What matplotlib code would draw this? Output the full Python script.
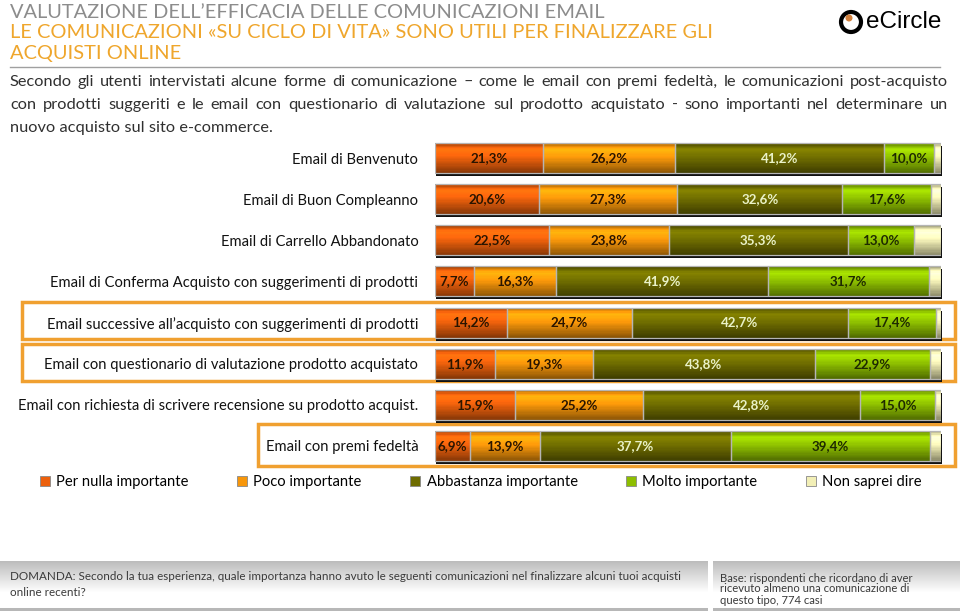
import numpy as np
import matplotlib.pyplot as plt
from matplotlib.patches import Rectangle, Circle
from matplotlib.colors import to_rgb

plt.rcParams['font.family'] = ['Lato', 'DejaVu Sans']

# --- data ---
categories = [
    'Email di Benvenuto',
    'Email di Buon Compleanno',
    'Email di Carrello Abbandonato',
    'Email di Conferma Acquisto con suggerimenti di prodotti',
    "Email successive all\u2019acquisto con suggerimenti di prodotti",
    'Email con questionario di valutazione prodotto acquistato',
    'Email con richiesta di scrivere recensione su prodotto acquist.',
    'Email con premi fedelt\u00e0',
]
per_nulla = [21.3, 20.6, 22.5, 7.7, 14.2, 11.9, 15.9, 6.9]
poco = [26.2, 27.3, 23.8, 16.3, 24.7, 19.3, 25.2, 13.9]
abbastanza = [41.2, 32.6, 35.3, 41.9, 42.7, 43.8, 42.8, 37.7]
molto = [10.0, 17.6, 13.0, 31.7, 17.4, 22.9, 15.0, 39.4]
non_saprei = [1.3, 1.9, 5.4, 2.4, 1.0, 2.1, 1.1, 2.1]

series_names = ['Per nulla importante', 'Poco importante', 'Abbastanza importante',
                'Molto importante', 'Non saprei dire']
series_values = [per_nulla, poco, abbastanza, molto, non_saprei]
colors = ['#EC600C', '#F7960A', '#6E6C00', '#8DBE00', '#F2EFB6']
text_colors = ['#2a1500', '#2a1500', '#eaf2c8', '#1e2a00', None]

fig = plt.figure(figsize=(9.6, 6.13), dpi=100)

# background axes in pixel units for the page decorations
bg = fig.add_axes([0, 0, 1, 1], zorder=0)
bg.set_xlim(0, 960)
bg.set_ylim(613, 0)
bg.axis('off')

# title
bg.text(10, 12, 'VALUTAZIONE DELL\u2019EFFICACIA DELLE COMUNICAZIONI EMAIL', color='#8c8c8c',
        fontsize=14.4, va='center', ha='left')
bg.text(10, 33, 'LE COMUNICAZIONI \u00abSU CICLO DI VITA\u00bb SONO UTILI PER FINALIZZARE GLI',
        color='#EFA62C', fontsize=14.4, va='center', ha='left')
bg.text(10, 54, 'ACQUISTI ONLINE', color='#EFA62C', fontsize=14.4, va='center', ha='left')
bg.plot([10, 940], [67, 67], color='#a0a0a0', lw=1)

# logo
bg.add_patch(Circle((851, 22), 10, facecolor='white', edgecolor='black', lw=3))
bg.add_patch(Circle((849, 18), 3.5, facecolor='#D2803C', edgecolor='none'))
bg.text(866, 22, 'eCircle', fontsize=17.5, family='Liberation Sans', va='center', ha='left')

# intro paragraph (first two lines justified to the page width)
intro = [
    'Secondo gli utenti intervistati alcune forme di comunicazione \u2013 come le email con premi fedelt\u00e0, le comunicazioni post-acquisto',
    'con prodotti suggeriti e le email con questionario di valutazione sul prodotto acquistato - sono importanti nel determinare un',
    'nuovo acquisto sul sito e-commerce.',
]
renderer = fig.canvas.get_renderer()
for i, line in enumerate(intro):
    ypos = 82 + i * 23
    if i == len(intro) - 1:
        bg.text(10, ypos, line, fontsize=11.8, color='#303030', va='center', ha='left')
        continue
    words = line.split(' ')
    objs = [bg.text(0, ypos, w, fontsize=11.8, color='#303030', va='center', ha='left')
            for w in words]
    widths = [o.get_window_extent(renderer).width for o in objs]
    gap = (948 - 10 - sum(widths)) / (len(words) - 1)
    x = 10
    for o, w in zip(objs, widths):
        o.set_x(x)
        x += w + gap

# highlight boxes
for x0, y0, x1, y1 in [(22, 302, 955, 339), (22, 344, 955, 381), (258, 424, 955, 466)]:
    bg.add_patch(Rectangle((x0, y0), x1 - x0, y1 - y0, fill=False, edgecolor='#F0A030', lw=2.5))

# footer boxes with grey gradient
shade = np.clip(0.74 + 0.26 * np.linspace(0, 1.6, 50), 0, 1)
shade[-3:] = 0.72
img = np.tile(shade[:, None, None], (1, 2, 3))
bg.imshow(img, extent=(0, 708, 611, 561), aspect='auto', zorder=1, interpolation='bilinear')
bg.imshow(img, extent=(713, 960, 611, 561), aspect='auto', zorder=1, interpolation='bilinear')
bg.set_xlim(0, 960)
bg.set_ylim(613, 0)
bg.text(10, 577, 'DOMANDA: Secondo la tua esperienza, quale importanza hanno avuto le seguenti comunicazioni nel finalizzare alcuni tuoi acquisti',
        fontsize=8.4, color='#3a3a3a', va='center', ha='left', zorder=2)
bg.text(10, 592, 'online recenti?', fontsize=8.4, color='#3a3a3a',
        va='center', ha='left', zorder=2)
bg.text(720, 589, 'Base: rispondenti che ricordano di aver\nricevuto almeno una comunicazione di\nquesto tipo, 774 casi',
        fontsize=8.1, color='#3a3a3a', va='center', ha='left',
        linespacing=1.0, zorder=2)

# --- bar chart ---
left_px, right_px = 435, 941
top_px, bot_px = 137.5, 466.5
ax = fig.add_axes([left_px / 960, 1 - bot_px / 613, (right_px - left_px) / 960,
                   (bot_px - top_px) / 613], zorder=2)
ax.patch.set_alpha(0)
y = np.arange(len(categories))
bar_h = 0.73
unit_x = 100 / (right_px - left_px)          # data units per pixel
unit_y = len(categories) / (bot_px - top_px)

# dark drop shadow to the lower right of each stacked bar
totals = np.sum(series_values, axis=0)
ax.barh(y + 3 * unit_y, totals, left=1 * unit_x, height=bar_h, color='#111111',
        zorder=0, clip_on=False)

# vertical shading profile (dark rim at top, highlight, darker bottom), drawn as thin stripes
n_strips = 24
prof = np.interp(np.linspace(0, 1, n_strips), [0, 0.2, 0.5, 1], [0.72, 1.22, 1.0, 0.58])
strip_h = bar_h / n_strips

lefts = np.zeros(len(categories))
handles = []
for k, (name, vals) in enumerate(zip(series_names, series_values)):
    bars = ax.barh(y, vals, left=lefts, height=bar_h, color=colors[k], label=name,
                   edgecolor='none', zorder=1)
    handles.append(bars)
    base = np.array(to_rgb(colors[k]))
    for j in range(n_strips):
        c = tuple(np.clip(base * prof[j], 0, 1))
        ax.barh(y - bar_h / 2 + (j + 0.5) * strip_h, vals, left=lefts, height=strip_h * 1.05,
                color=[c] * len(vals), edgecolor='none', zorder=2, antialiased=False)
    ax.barh(y, vals, left=lefts, height=bar_h, fill=False, edgecolor='#b5b5b5', lw=0.9, zorder=3)
    if text_colors[k] is not None:
        for yi, v, l in zip(y, vals, lefts):
            ax.text(l + v / 2, yi, f'{v:.1f}%'.replace('.', ','), ha='center', va='center',
                    fontsize=9.6, fontweight='bold', color=text_colors[k], zorder=4)
    lefts = lefts + np.array(vals)

ax.set_xlim(0, 100)
ax.set_ylim(len(categories) - 0.5, -0.5)
ax.set_yticks(y)
ax.set_yticklabels(categories, fontsize=10.6, color='#111111')
ax.tick_params(axis='y', length=0, pad=12)
ax.set_xticks([])
for s in ax.spines.values():
    s.set_visible(False)

leg = fig.legend(handles=handles, labels=series_names, loc='center', ncol=5,
                 bbox_to_anchor=(481 / 960, 1 - 482 / 613), frameon=False, fontsize=10.6,
                 handlelength=0.65, handleheight=0.65, handletextpad=0.45, columnspacing=3.3)
for h in leg.legend_handles:
    h.set_edgecolor('#888888')
    h.set_linewidth(0.6)

fig.savefig('out.png', dpi=100)
